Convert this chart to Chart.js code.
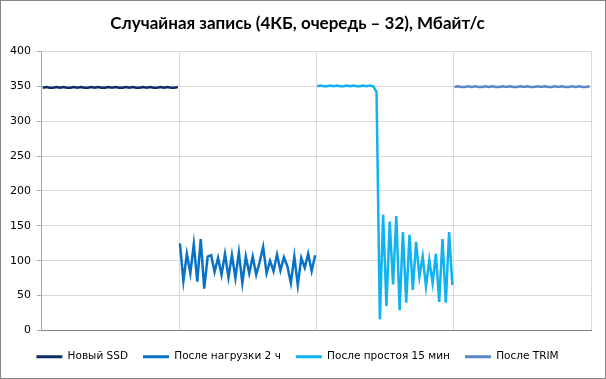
<!DOCTYPE html>
<html><head><meta charset="utf-8">
<script src="https://cdn.jsdelivr.net/npm/chart.js@4/dist/chart.umd.min.js"></script>
<style>
html,body{margin:0;padding:0;background:#fff;}
#wrap{width:604px;height:377px;border:1px solid #868686;position:relative;}
</style></head><body>
<div id="wrap"><canvas id="c" width="604" height="377"></canvas></div>
<script>
const seriesNames = ["Новый SSD", "После нагрузки 2 ч", "После простоя 15 мин", "После TRIM"];
const seriesColors = ["#0f2d63", "#0a72c4", "#10b2f0", "#5887c6"];
const yTicks = [0, 50, 100, 150, 200, 250, 300, 350, 400];
const chartTitle = "Случайная запись (4КБ, очередь – 32), Мбайт/с";

const newSSD = [348,349,348,348,349,348,349,348,348,349,348,349,348,348,349,348,349,348,348,349,348,349,348,348,349,348,349,348,348,349,348,349,348,348,349,348,349,348,348,349];
const afterLoad = [125,71,110,82,124,70,131,60,106,108,84,104,80,110,76,108,75,112,68,106,82,106,80,98,120,82,100,85,109,86,105,92,68,106,65,104,90,110,85,108];
const afterIdle = [350,351,350,350,351,350,351,350,350,351,350,351,350,350,351,350,351,350,342,16,166,35,156,66,164,29,141,40,137,58,127,77,106,63,101,68,110,41,131,40,141,65];
const afterTrim = [349,350,349,349,350,349,350,349,349,350,349,350,349,349,350,349,350,349,349,350,349,350,349,349,350,349,350,349,349,350,349,350,349,349,350,349,350,349,349,350];

const allSeries = [newSSD, afterLoad, afterIdle, afterTrim];

function toPoints(values, section) {
  return values.map((v, j) => ({ x: section + 0.005 + 0.985 * j / (values.length - 1), y: v }));
}

const datasets = allSeries.map((vals, k) => ({
  label: seriesNames[k],
  data: toPoints(vals, k),
  borderColor: seriesColors[k],
  backgroundColor: seriesColors[k],
  borderWidth: 2.5,
  pointRadius: 0,
  tension: 0,
  fill: false
}));

new Chart(document.getElementById('c'), {
  type: 'line',
  data: { datasets },
  options: {
    responsive: false,
    animation: false,
    devicePixelRatio: 1,
    layout: { padding: { left: 3, right: 14, top: 0, bottom: 6 } },
    plugins: {
      title: {
        display: true,
        text: chartTitle,
        color: '#000',
        font: { family: 'Lato', size: 17, weight: 'bold' },
        padding: { top: 12, bottom: 18 }
      },
      legend: {
        position: 'bottom',
        labels: {
          boxWidth: 26,
          boxHeight: 3,
          color: '#000',
          padding: 15,
          font: { family: 'DejaVu Sans', size: 10.5 },
          generateLabels: (chart) => Chart.defaults.plugins.legend.labels.generateLabels(chart).map(l => Object.assign(l, { lineWidth: 0 }))
        }
      },
      tooltip: { enabled: false }
    },
    scales: {
      x: {
        type: 'linear',
        min: 0, max: 4,
        ticks: { stepSize: 1, display: false },
        grid: { color: '#d9d9d9', drawTicks: false },
        border: { color: '#868686' },
        afterFit: (s) => { s.height = 6; }
      },
      y: {
        min: 0, max: 400,
        afterBuildTicks: (s) => { s.ticks = yTicks.map(v => ({ value: v })); },
        ticks: { color: '#000', padding: 6, font: { family: 'DejaVu Sans', size: 11 } },
        grid: { color: '#d9d9d9', tickLength: 5, tickColor: '#a6a6a6' },
        border: { color: '#a6a6a6' }
      }
    }
  }
});
</script>
</body></html>
